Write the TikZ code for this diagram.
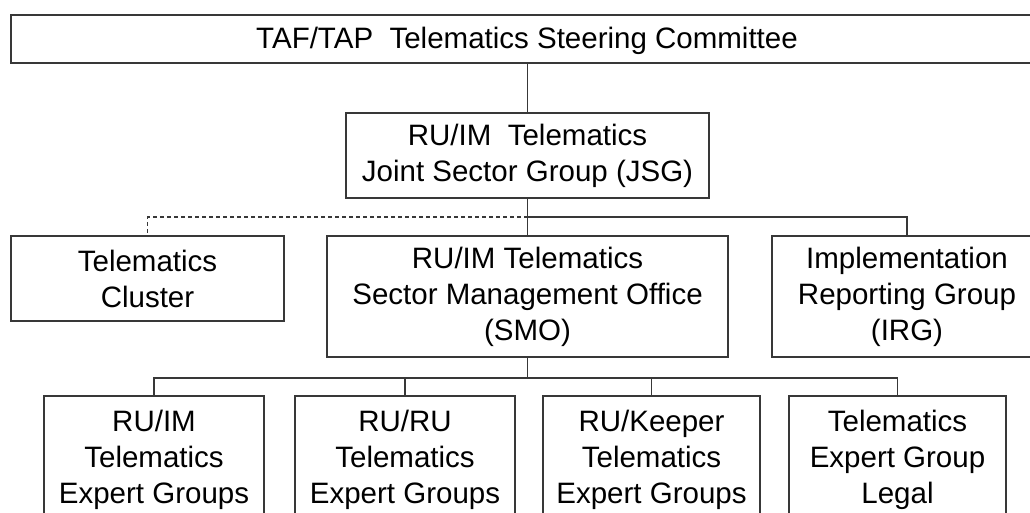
\documentclass[tikz,border=0pt]{standalone}
\usepackage{fontspec}
\setmainfont{Liberation Sans}
\begin{document}
\begin{tikzpicture}[x=1pt,y=-1pt,
  orgbox/.style={draw=black!78, line width=1.3pt, rectangle, inner sep=0pt, align=center,
    font=\fontsize{29.5}{36}\selectfont, text=black},
  conn/.style={draw=black!78, line width=1.2pt},
  dconn/.style={conn, dash pattern=on 4pt off 3pt}]
\useasboundingbox (0,0) rectangle (1030,513);
\clip (0,0) rectangle (1030,513);
\fill[white] (0,0) rectangle (1030,513);
\node[orgbox, minimum width=1032, minimum height=48, text depth=3pt] (top) at (527,39) {TAF/TAP\ \ Telematics\ Steering\ Committee};
\node[orgbox, minimum width=363, minimum height=85] (jsg) at (527.5,155.5) {RU/IM\ \ Telematics\\Joint Sector Group (JSG)};
\node[orgbox, minimum width=273, minimum height=85] (cluster) at (147.5,278.5) {Telematics\\Cluster};
\node[orgbox, minimum width=401, minimum height=121] (smo) at (527.5,296.5) {RU/IM Telematics\\Sector Management Office\\(SMO)};
\node[orgbox, minimum width=270, minimum height=121] (irg) at (907,296.5) {Implementation\\Reporting Group\\(IRG)};
\node[orgbox, minimum width=220, minimum height=128] (b1) at (154,460) {RU/IM\\Telematics\\Expert Groups};
\node[orgbox, minimum width=220, minimum height=128] (b2) at (405,460) {RU/RU\\Telematics\\Expert Groups};
\node[orgbox, minimum width=217, minimum height=128] (b3) at (651.5,460) {RU/Keeper\\Telematics\\Expert Groups};
\node[orgbox, minimum width=217, minimum height=128] (b4) at (897.5,460) {Telematics\\Expert Group\\Legal};
\coordinate (j1) at (527.5,217);
\coordinate (s1) at (527.5,378);
\draw[conn] (top.south -| jsg.north) -- (jsg.north);
\draw[conn] (jsg.south) -- (smo.north);
\draw[conn] (j1) -| (irg.north);
\draw[dconn] (j1) -| (cluster.north);
\draw[conn] (smo.south) -- (s1);
\draw[conn] (s1) -| (b1.north);
\draw[conn] (s1) -| (b2.north);
\draw[conn] (s1) -| (b3.north);
\draw[conn] (s1) -| (b4.north);
\end{tikzpicture}
\end{document}
